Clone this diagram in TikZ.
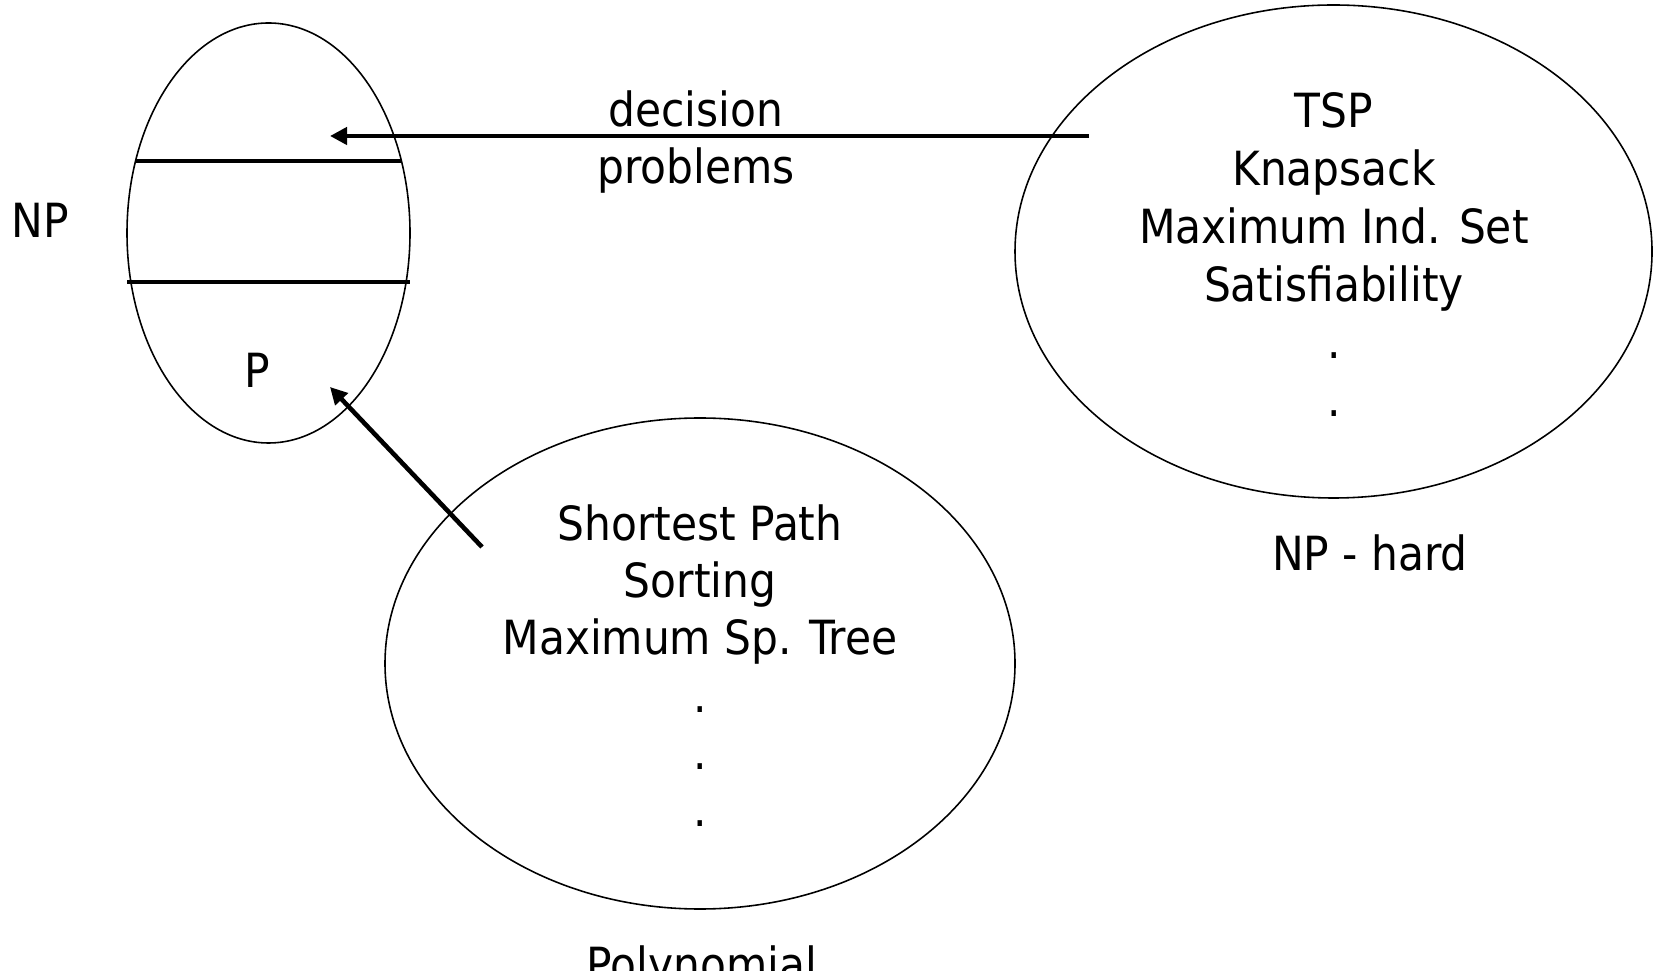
\documentclass[tikz,border=0pt]{standalone}
\usepackage{fontspec}
\setmainfont{DejaVu Sans Condensed}
\usetikzlibrary{arrows.meta, shapes.geometric}

\tikzset{
  cls/.style={draw, ellipse, line width=0.45pt, inner sep=0pt},
  lbl/.style={font=\fontsize{13.4}{16}\selectfont, anchor=base, inner sep=0pt},
  band/.style={line width=1.3pt},
  reduce/.style={line width=1.3pt, -{Triangle[length=1.7mm, width=1.7mm]}},
}

\begin{document}
\begin{tikzpicture}

\useasboundingbox (0,0) rectangle (16.58,-9.71);

% =============================================
% NP, with P at the bottom
% =============================================
\node[cls, minimum width=2.83cm, minimum height=4.2cm] (np) at (2.685,-2.33) {};
\draw[band] (1.35,-1.61) -- (4.02,-1.61);
\draw[band] (1.27,-2.82) -- (4.10,-2.82);
\node[lbl] (nplbl) at (0.40,-2.38) {NP};
\node[lbl] (plbl) at (2.57,-3.88) {P};

% =============================================
% NP-hard problems
% =============================================
\node[cls, minimum width=6.37cm, minimum height=4.93cm] (hard) at (13.335,-2.515) {};
\foreach \txt [count=\i] in {TSP, Knapsack, Maximum Ind. Set, Satisfiability, ., .}
  \node[lbl] (hard\i) at (13.34,{-1.28-0.577*(\i-1)}) {\txt};
\node[lbl] (hardlbl) at (13.70,-5.71) {NP - hard};

% =============================================
% Polynomial problems
% =============================================
\node[cls, minimum width=6.30cm, minimum height=4.91cm] (poly) at (7.00,-6.635) {};
\foreach \txt [count=\i] in {Shortest Path, Sorting, Maximum Sp. Tree, ., ., .}
  \node[lbl] (poly\i) at (7.00,{-5.405-0.572*(\i-1)}) {\txt};
\node[lbl] (polylbl) at (7.02,-9.81) {Polynomial};

% Arrows into NP
\coordinate (dec-from) at (10.89,-1.36);
\coordinate (dec-to) at (3.30,-1.36);
\draw[reduce] (dec-from) -- (dec-to);
\node[lbl] (dec1) at (6.96,-1.265) {decision};
\node[lbl] (dec2) at (6.96,-1.84) {problems};

\coordinate (poly-from) at (4.82,-5.47);
\coordinate (poly-to) at (3.30,-3.87);
\draw[reduce] (poly-from) -- (poly-to);

\end{tikzpicture}
\end{document}
